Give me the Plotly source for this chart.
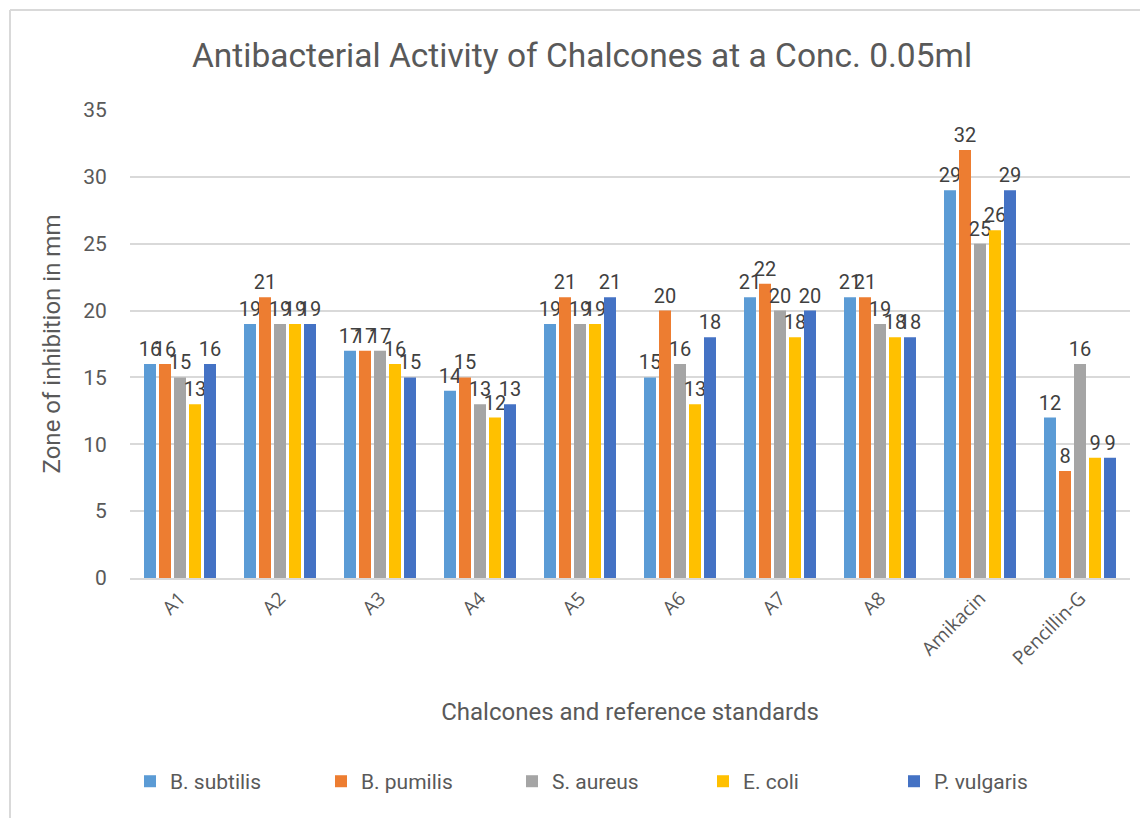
import plotly.graph_objects as go

categories = ["A1", "A2", "A3", "A4", "A5", "A6", "A7", "A8", "Amikacin", "Pencillin-G"]
series_names = ["B. subtilis", "B. pumilis", "S. aureus", "E. coli", "P. vulgaris"]
b_subtilis = [16, 19, 17, 14, 19, 15, 21, 21, 29, 12]
b_pumilis = [16, 21, 17, 15, 21, 20, 22, 21, 32, 8]
s_aureus = [15, 19, 17, 13, 19, 16, 20, 19, 25, 16]
e_coli = [13, 19, 16, 12, 19, 13, 18, 18, 26, 9]
p_vulgaris = [16, 19, 15, 13, 21, 18, 20, 18, 29, 9]
colors = ["#5B9BD5", "#ED7D31", "#A5A5A5", "#FFC000", "#4472C4"]
y_ticks = [0, 5, 10, 15, 20, 25, 30, 35]

values = [b_subtilis, b_pumilis, s_aureus, e_coli, p_vulgaris]

fig = go.Figure()
for name, vals, col in zip(series_names, values, colors):
    fig.add_trace(go.Bar(
        x=categories, y=vals, name=name,
        marker=dict(color=col, line=dict(width=0)),
        text=[str(v) for v in vals], textposition="outside",
        constraintext="none", cliponaxis=False,
        textfont=dict(family="Roboto", size=20, color="#404040"),
    ))

fig.update_layout(
    width=1148, height=818,
    paper_bgcolor="white", plot_bgcolor="white",
    margin=dict(l=122, r=26, t=102, b=248, autoexpand=False),
    barmode="group", bargap=0.25, bargroupgap=0.2,
    title=dict(text="Antibacterial Activity of Chalcones at a Conc. 0.05ml",
               x=0.5, xanchor="center", y=0.9425, yanchor="middle",
               font=dict(family="Roboto", size=33.5, color="#595959")),
    showlegend=True,
    legend=dict(orientation="h", x=0.0, xanchor="left", y=-0.435, yanchor="middle",
                entrywidth=146, entrywidthmode="pixels",
                font=dict(family="Roboto", size=21, color="#595959"),
                itemsizing="constant", traceorder="normal"),
    xaxis=dict(
        title=dict(text="Chalcones and reference standards",
                   font=dict(family="Roboto", size=24, color="#595959"), standoff=34),
        tickangle=-45, tickfont=dict(family="Open Sans", size=19, color="#595959"),
        showline=True, linecolor="#D9D9D9", linewidth=1.5, ticks="",
        showgrid=False, automargin=False,
    ),
    yaxis=dict(
        title=dict(text="Zone of inhibition in mm",
                   font=dict(family="Roboto", size=24, color="#595959"), standoff=15),
        range=[0, 35], tickvals=y_ticks,
        tickfont=dict(family="Roboto", size=21, color="#595959"),
        showgrid=True, gridcolor="#D9D9D9", gridwidth=1.5,
        zeroline=False, ticks="outside", ticklen=18, tickcolor="rgba(0,0,0,0)",
        automargin=False,
    ),
)

# outer frame of the chart (light gray)
fig.add_shape(type="line", xref="paper", yref="paper",
              x0=-0.12, x1=1.1, y0=1.2137, y1=1.2137,
              line=dict(color="#D9D9D9", width=2))
fig.add_shape(type="line", xref="paper", yref="paper",
              x0=-0.12, x1=-0.12, y0=1.2137, y1=-0.6,
              line=dict(color="#D9D9D9", width=2))

fig.write_html("out.html")
